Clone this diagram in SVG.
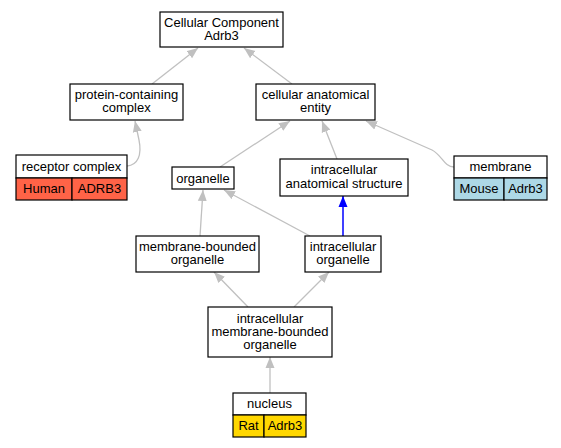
<svg xmlns="http://www.w3.org/2000/svg" width="561" height="448" viewBox="0 0 561 448">
<defs>
<style>
.box{fill:#fff;stroke:#000;stroke-width:1.2}
text{font-family:"Liberation Sans",Arial,sans-serif;font-size:13px;fill:#000;text-anchor:middle}
.e{fill:none;stroke:#c0c0c0;stroke-width:1.3}
.b{fill:none;stroke:#0000ff;stroke-width:1.5}
</style>
<marker id="ag" markerUnits="userSpaceOnUse" markerWidth="12" markerHeight="10" refX="11" refY="4.5" orient="auto" viewBox="0 0 12 9"><path d="M0,0 L11,4.5 L0,9 z" fill="#c0c0c0"/></marker>
<marker id="ab" markerUnits="userSpaceOnUse" markerWidth="12" markerHeight="10" refX="11" refY="4.5" orient="auto" viewBox="0 0 12 9"><path d="M0,0 L11,4.5 L0,9 z" fill="#0000ff"/></marker>
</defs>
<rect width="561" height="448" fill="#fff"/>
<g id="edges">
<path class="e" d="M152,84 L198,48" marker-end="url(#ag)"/>
<path class="e" d="M292,84 L244,48" marker-end="url(#ag)"/>
<path class="e" d="M127,166 C138,165 142,155 139,140 L135,121" marker-end="url(#ag)"/>
<path class="e" d="M220,167 L290,121" marker-end="url(#ag)"/>
<path class="e" d="M337,159 L322,121" marker-end="url(#ag)"/>
<path class="e" d="M454,167 C444,167 442,155 432,150 L366,121" marker-end="url(#ag)"/>
<path class="b" d="M343,236 L343,196" marker-end="url(#ab)"/>
<path class="e" d="M200,236 L203,190" marker-end="url(#ag)"/>
<path class="e" d="M310,236 L224,190" marker-end="url(#ag)"/>
<path class="e" d="M248,307 L214,272" marker-end="url(#ag)"/>
<path class="e" d="M294,307 L329,272" marker-end="url(#ag)"/>
<path class="e" d="M270,393 L270,357" marker-end="url(#ag)"/>
</g>
<g id="cc">
<rect class="box" x="160" y="12" width="123" height="35"/>
<text x="221.5" y="26.5">Cellular Component</text>
<text x="221.5" y="39.5">Adrb3</text>
</g>
<g id="pcc">
<rect class="box" x="70" y="84" width="113" height="36"/>
<text x="126.5" y="98.5">protein-containing</text>
<text x="126.5" y="111.5">complex</text>
</g>
<g id="cae">
<rect class="box" x="256" y="84" width="119" height="36"/>
<text x="315.5" y="98.5">cellular anatomical</text>
<text x="315.5" y="111.5">entity</text>
</g>
<g id="receptor">
<rect class="box" x="16" y="155" width="111" height="23"/>
<rect x="16" y="178" width="56" height="22" fill="#ff6347" stroke="#000" stroke-width="1.2"/>
<rect x="72" y="178" width="55" height="22" fill="#ff6347" stroke="#000" stroke-width="1.2"/>
<text x="71.5" y="170.5">receptor complex</text>
<text x="44" y="192.5">Human</text>
<text x="99.5" y="192.5">ADRB3</text>
</g>
<g id="organelle">
<rect class="box" x="172" y="167" width="62" height="22"/>
<text x="203" y="182.5">organelle</text>
</g>
<g id="ias">
<rect class="box" x="280" y="159" width="128" height="37"/>
<text x="344" y="173.5">intracellular</text>
<text x="344" y="187.5">anatomical structure</text>
</g>
<g id="membrane">
<rect class="box" x="454" y="156" width="93" height="22"/>
<rect x="454" y="178" width="50" height="22" fill="#add8e6" stroke="#000" stroke-width="1.2"/>
<rect x="504" y="178" width="43" height="22" fill="#add8e6" stroke="#000" stroke-width="1.2"/>
<text x="500.5" y="170.5">membrane</text>
<text x="479" y="192.5">Mouse</text>
<text x="525.5" y="192.5">Adrb3</text>
</g>
<g id="mbo">
<rect class="box" x="136" y="236" width="123" height="36"/>
<text x="197.5" y="250.5">membrane-bounded</text>
<text x="197.5" y="263.5">organelle</text>
</g>
<g id="io">
<rect class="box" x="305" y="236" width="76" height="36"/>
<text x="343" y="250.5">intracellular</text>
<text x="343" y="263.5">organelle</text>
</g>
<g id="imbo">
<rect class="box" x="208" y="307" width="124" height="50"/>
<text x="270" y="322.5">intracellular</text>
<text x="270" y="335.5">membrane-bounded</text>
<text x="270" y="348.5">organelle</text>
</g>
<g id="nucleus">
<rect class="box" x="233" y="393" width="73" height="22"/>
<rect x="233" y="415" width="31" height="22" fill="#ffd700" stroke="#000" stroke-width="1.2"/>
<rect x="264" y="415" width="42" height="22" fill="#ffd700" stroke="#000" stroke-width="1.2"/>
<text x="269.5" y="407.5">nucleus</text>
<text x="248.5" y="429.5">Rat</text>
<text x="285" y="429.5">Adrb3</text>
</g>
</svg>
